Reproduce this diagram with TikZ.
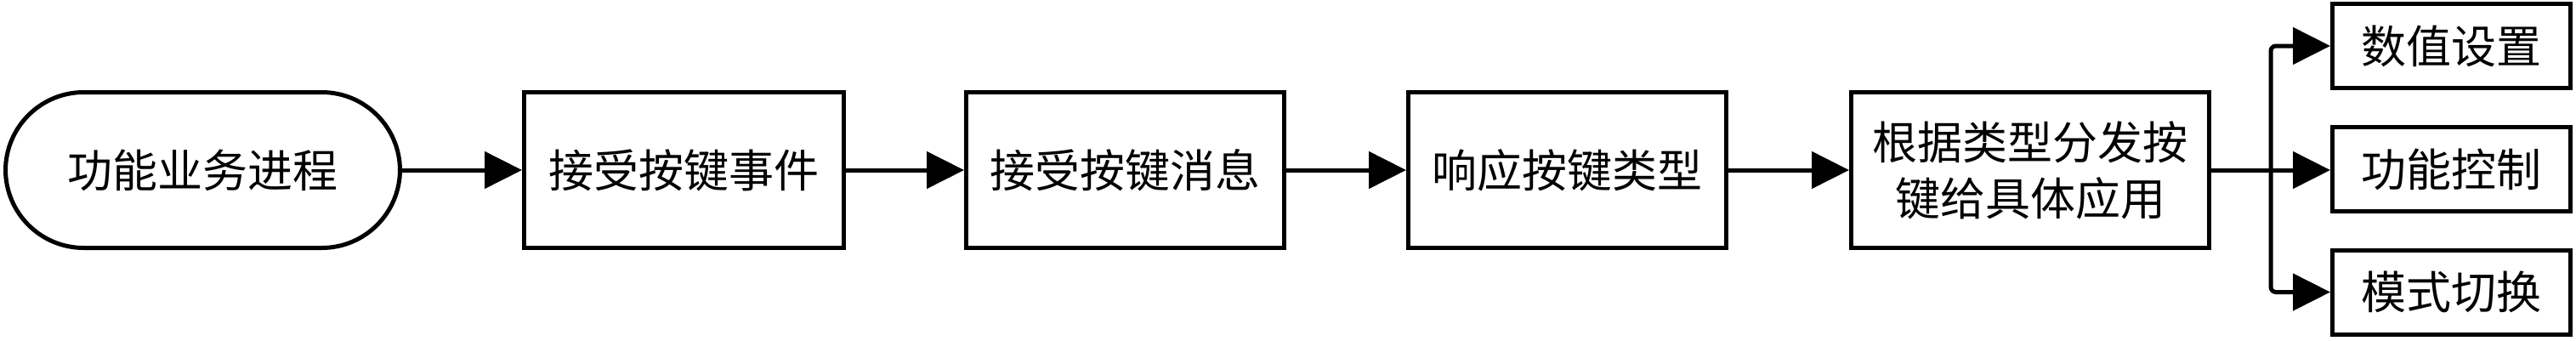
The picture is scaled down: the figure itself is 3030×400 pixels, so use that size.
\documentclass[tikz,border=0pt]{standalone}
\usepackage{fontspec}
\setmainfont{Noto Sans CJK SC}
\usetikzlibrary{arrows.meta}
\begin{document}
\begin{tikzpicture}[x=1pt,y=-1pt,
  every node/.style={font=\fontsize{53}{66}\selectfont, align=center, inner sep=0pt},
  box/.style={draw, line width=5pt, minimum height=183pt},
  fbox/.style={draw, line width=5pt, minimum width=280pt, minimum height=99pt},
  term/.style={draw, line width=5pt, rounded corners=92pt, minimum width=464pt, minimum height=183pt},
  conn/.style={line width=5pt, -{Triangle[length=44pt,width=43pt]}}]
\useasboundingbox (0,0) rectangle (3030,400);
\node[term] (t) at (238.5,200) {功能业务进程};
\node[box, minimum width=376pt] (b1) at (804.5,200) {接受按键事件};
\node[box, minimum width=374pt] (b2) at (1323.5,200) {接受按键消息};
\node[box, minimum width=374pt] (b3) at (1843.5,200) {响应按键类型};
\node[box, minimum width=421pt] (b4) at (2388,200) {根据类型分发按\\键给具体应用};
\node[fbox] (f1) at (2883.5,54) {数值设置};
\node[fbox] (f2) at (2883.5,199) {功能控制};
\node[fbox] (f3) at (2883.5,343.5) {模式切换};
\coordinate (br) at (2671,200);
\draw[conn] (t) -- (b1);
\draw[conn] (b1) -- (b2);
\draw[conn] (b2) -- (b3);
\draw[conn] (b3) -- (b4);
\draw[conn] (b4.east) -- (f2.west |- b4.east);
\draw[conn, rounded corners=6pt] (br) |- (f1.west);
\draw[conn, rounded corners=6pt] (br) |- (f3.west);
\end{tikzpicture}
\end{document}
